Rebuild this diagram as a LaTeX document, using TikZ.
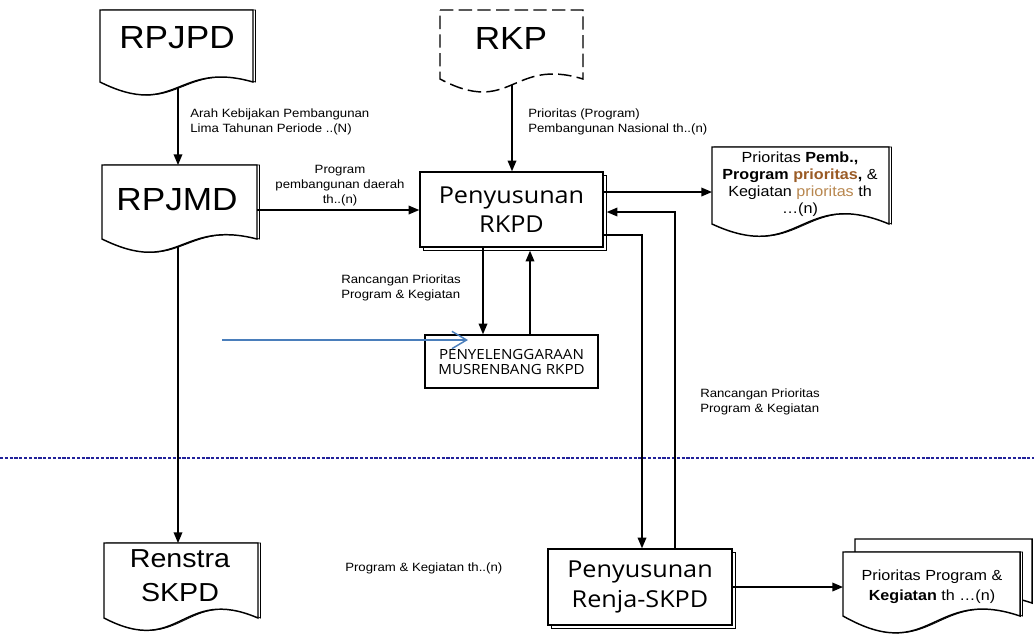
\documentclass[tikz,border=0pt]{standalone}
\usepackage{fontspec}
\setmainfont[FakeStretch=1.1]{Liberation Sans}
\newfontfamily\humfont[FakeStretch=1.08]{Open Sans}
\usetikzlibrary{arrows.meta,shadows}
\definecolor{brA}{HTML}{9A5B25}
\definecolor{brB}{HTML}{B8874F}
\definecolor{sepblue}{HTML}{22229A}
\definecolor{arrblue}{HTML}{4A7EBB}
% #1 style, #2 L, #3 T, #4 R, #5 B, #6 crest ctrl, #7 trough ctrl
\newcommand\docshape[7][]{%
  \pgfmathsetmacro\dW{#4-#2}%
  \draw[doc,#1] (#2,#3) -- (#4,#3) -- (#4,#5)
     .. controls ({#4-0.5*\dW},{#5-#6}) and ({#2+0.5*\dW},{#5+#7}) .. (#2,#5) -- cycle;}
\begin{document}
\begin{tikzpicture}[x=0.75pt,y=-0.75pt,line join=miter,
  doc/.style={draw,line width=1.1pt,fill=white},
  docshadow/.style={draw,line width=0.6pt,fill=white,shift={(2.5,0)}},
  box/.style={draw,line width=1.1pt,fill=white,inner sep=0pt,align=center},
  boxshadow/.style={general shadow={shadow xshift=2.25pt,shadow yshift=-2.25pt,draw=black,line width=0.7pt,fill=white}},
  conn/.style={line width=1pt,-{Triangle[length=8pt,width=6.5pt]}},
  bluearrow/.style={draw=arrblue,line width=1.1pt,-{Straight Barb[length=11pt,width=13pt,line width=1.1pt]}},
  sep/.style={draw=sepblue,line width=1pt,dash pattern=on 2.4pt off 1.2pt},
  lbl/.style={font=\fontsize{9}{11.25}\selectfont,inner sep=0pt,align=left,anchor=north west},
  big/.style={font=\fontsize{24}{28}\selectfont,inner sep=0pt},
  hum/.style={font=\humfont\fontsize{17.5}{22}\selectfont}
]
\useasboundingbox (0,0) rectangle (1034,637);

% separator
\coordinate (dL) at (0,458);
\coordinate (dR) at (1034,458);
\draw[sep] (dL) -- (dR);

% documents
\docshape[docshadow]{100}{10}{253}{82}{22}{38}
\docshape{100}{10}{253}{82}{22}{38}
\node[big] (rpjpd) at (177,38) {RPJPD};

\docshape[docshadow]{102}{165}{257}{239}{20}{38}
\docshape{102}{165}{257}{239}{20}{38}
\node[big] (rpjmd) at (177,200) {RPJMD};

\docshape[dash pattern=on 10pt off 4pt]{440}{10}{583}{79}{22}{38}
\node[big] (rkp) at (511,38) {RKP};

\docshape[docshadow]{712}{147}{889}{224}{37}{41}
\docshape{712}{147}{889}{224}{37}{41}
\node[font=\fontsize{11}{12.75}\selectfont,align=center,inner sep=0pt] (prio) at (800,184)
  {Prioritas \textbf{Pemb.,}\\\textbf{Program {\color{brA}prioritas},} \&\\Kegiatan {\color{brB}prioritas} th\\…(n)};

\docshape[docshadow]{104}{543}{258}{618}{33}{40}
\docshape{104}{543}{258}{618}{33}{40}
\node[font=\fontsize{19.5}{25.5}\selectfont,align=center,inner sep=0pt] (renstra) at (180,576) {Renstra\\SKPD};

\docshape{855}{539}{1032}{603}{30}{50}
\docshape[docshadow]{843}{552}{1020}{616}{30}{50}
\docshape{843}{552}{1020}{616}{30}{50}
\node[font=\fontsize{11}{15}\selectfont,align=center,inner sep=0pt] (multi) at (932,586.5)
  {Prioritas Program \&\\\textbf{Kegiatan} th …(n)};

% process boxes
\node[box,boxshadow,hum,minimum width=137.25pt,minimum height=56.25pt] (rkpd) at (511.5,209.5) {Penyusunan\\RKPD};
\node[box,font=\humfont\fontsize{10.5}{11.25}\selectfont,minimum width=129.75pt,minimum height=39.75pt] (musr) at (511.5,361.5) {PENYELENGGARAAN\\MUSRENBANG RKPD};
\node[box,boxshadow,hum,font=\humfont\fontsize{17.5}{22.5}\selectfont,minimum width=138pt,minimum height=57pt] (renja) at (640,587) {Penyusunan\\Renja-SKPD};

% connector points
\coordinate (rpjpdB) at (178,88);
\coordinate (rpjmdT) at (178,165);
\coordinate (rpjmdE) at (257,210);
\coordinate (rpjmdB) at (178,246);
\coordinate (renstraT) at (178,543);
\coordinate (rkpB) at (512,85);
\coordinate (prioW) at (712,192);
\coordinate (retX) at (675,212);
\coordinate (outX) at (642,235);
\coordinate (dnX) at (483,300);
\coordinate (upX) at (530,300);
\coordinate (multW) at (843,587);
\coordinate (bS) at (222,340);
\coordinate (bE) at (468,340);

% connectors
\draw[conn] (rpjpdB) -- (rpjmdT);
\draw[conn] (rpjmdE) -- (rpjmdE -| rkpd.west);
\draw[conn] (rkpB) -- (rkpB |- rkpd.north);
\draw[conn] (prioW -| rkpd.east) -- (prioW);
\draw[conn] (retX |- renja.north) -- (retX) -- ([xshift=2.25pt]retX -| rkpd.east);
\draw[conn] (outX -| rkpd.east) -- (outX) -- (outX |- renja.north);
\draw[conn] (dnX |- rkpd.south) -- (dnX |- musr.north);
\draw[conn] (upX |- musr.north) -- ([yshift=-2.25pt]upX |- rkpd.south);
\draw[conn] (rpjmdB) -- (renstraT);
\draw[conn] (renja.east |- multW) -- (multW);
\draw[bluearrow] (bS) -- (bE);

% labels
\node[lbl] (l1) at (190,109) {Arah Kebijakan Pembangunan\\Lima Tahunan Periode ..(N)};
\node[lbl] (l2) at (528,109) {Prioritas (Program)\\Pembangunan Nasional th..(n)};
\node[lbl,align=center,anchor=north] (l3) at (340,165) {Program\\pembangunan daerah\\th..(n)};
\node[lbl] (l4) at (341,275) {Rancangan Prioritas\\Program \& Kegiatan};
\node[lbl] (l5) at (700,389) {Rancangan Prioritas\\Program \& Kegiatan};
\node[lbl] (l6) at (345,563) {Program \& Kegiatan th..(n)};
\end{tikzpicture}
\end{document}
